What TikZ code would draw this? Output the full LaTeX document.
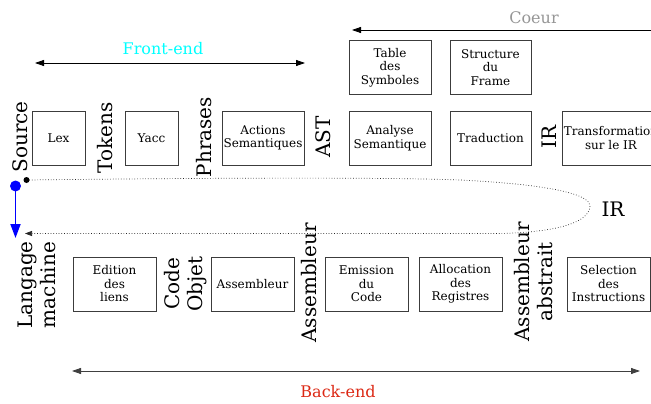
\documentclass[tikz,border=0pt]{standalone}
\usepackage{fontspec}
\setmainfont{DejaVu Serif}
\usetikzlibrary{arrows.meta}
\definecolor{frontc}{RGB}{0,255,255}
\definecolor{coeurc}{RGB}{150,150,150}
\definecolor{backc}{RGB}{220,40,20}
\definecolor{boxc}{RGB}{60,60,60}
\tikzset{
  stagebox/.style={draw=boxc, line width=0.9pt, minimum height=54pt, inner sep=1pt, align=center,
    font=\fontsize{12}{13.5}\selectfont},
  vlabel/.style={rotate=90, align=center, font=\fontsize{20}{23}\selectfont, inner sep=0pt},
  phase/.style={font=\fontsize{16}{19}\selectfont, inner sep=0pt},
  tipbig/.tip={Triangle[length=9pt,width=6pt]},
  spanarrow/.style={line width=0.8pt, tipbig-tipbig},
}
\begin{document}
\begin{tikzpicture}[x=1pt,y=-1pt]
\useasboundingbox (0,0) rectangle (651,404);
\clip (0,0) rectangle (651,404);

% top row
\node[stagebox, minimum width=82pt] (table) at (390,67.5) {Table\\des\\Symboles};
\node[stagebox, minimum width=81pt] (frame) at (490.5,67.5) {Structure\\du\\Frame};

% middle row
\node[stagebox, minimum width=53pt] (lex) at (58.5,138) {Lex};
\node[stagebox, minimum width=53pt] (yacc) at (151.5,138) {Yacc};
\node[stagebox, minimum width=82pt] (actions) at (263,138) {Actions\\Semantiques};
\node[stagebox, minimum width=82pt] (analyse) at (390,138) {Analyse\\Semantique};
\node[stagebox, minimum width=81pt] (trad) at (490.5,138) {Traduction};
\node[stagebox, minimum width=96pt] (transf) at (611,138) {Transformation\\sur le IR};

% bottom row
\node[stagebox, minimum width=83pt] (edition) at (114.5,284) {Edition\\des\\liens};
\node[stagebox, minimum width=83pt] (assemb) at (252.5,284) {Assembleur};
\node[stagebox, minimum width=83pt] (emission) at (366.5,284) {Emission\\du\\Code};
\node[stagebox, minimum width=83pt] (alloc) at (460.5,284) {Allocation\\des\\Registres};
\node[stagebox, minimum width=83pt] (select) at (608.5,284) {Selection\\des\\Instructions};

% rotated labels
\node[vlabel] (source) at (20,137) {Source};
\node[vlabel] (tokens) at (105,138) {Tokens};
\node[vlabel] (phrases) at (204,137) {Phrases};
\node[vlabel] (ast) at (323,137) {AST};
\node[vlabel] (irmid) at (549,137) {IR};
\node[vlabel] (langage) at (37,285) {Langage\\machine};
\node[vlabel] (codeobj) at (186,284) {Code\\Objet};
\node[vlabel] (asm) at (309,283) {Assembleur};
\node[vlabel] (asmabs) at (534,282) {Assembleur\\abstrait};
\node[font=\fontsize{20}{23}\selectfont, inner sep=0pt] (irloop) at (613,209.5) {IR};

% phases
\node[phase, text=frontc] (front) at (163,49) {Front-end};
\node[phase, text=coeurc] (coeur) at (534,18) {Coeur};
\node[phase, text=backc] (back) at (338,392) {Back-end};

\coordinate (frontL) at (35,63);
\coordinate (frontR) at (305,63);
\coordinate (coeurL) at (352,30);
\coordinate (coeurR) at (665,30);
\coordinate (backL) at (72,371);
\coordinate (backR) at (640,371);
\draw[spanarrow] (frontL) -- (frontR);
\draw[line width=0.8pt, tipbig-] (coeurL) -- (coeurR);
\draw[spanarrow, black!75] (backL) -- (backR);

% loop
\node[circle, fill=black, inner sep=0pt, minimum size=6pt] (sdot) at (26.5,180) {};
\coordinate (lmend) at (25,233.5);
\draw[dotted, line width=0.7pt, black!85, -{Triangle[length=7pt,width=5pt]}]
  (sdot.center) .. controls (200,178) and (380,177) .. (460,180)
  .. controls (560,185) and (592,196) .. (590,207)
  .. controls (588,222) and (560,232) .. (500,233.5) -- (lmend);

% blue arrow
\node[circle, fill=blue, inner sep=0pt, minimum size=11pt] (bdot) at (15.5,186) {};
\coordinate (bend) at (15.5,238);
\draw[blue, line width=1.8pt, -{Triangle[length=14pt,width=10pt]}] (bdot.center) -- (bend);
\end{tikzpicture}
\end{document}
